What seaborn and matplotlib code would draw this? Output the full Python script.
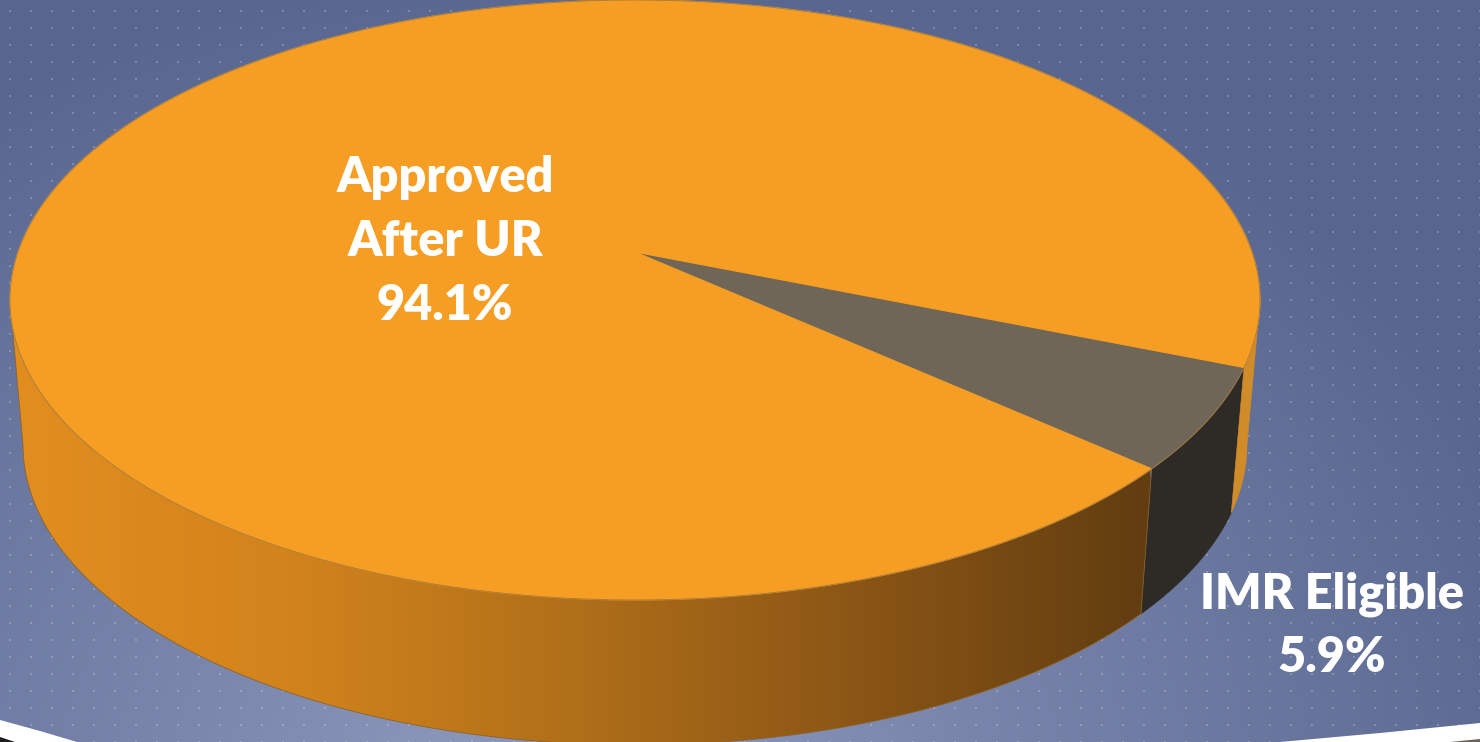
import numpy as np
import matplotlib
matplotlib.use("Agg")
import matplotlib.pyplot as plt
from matplotlib.patches import Polygon
from matplotlib.colors import to_rgb, LinearSegmentedColormap
import seaborn as sns

# ---- data -------------------------------------------------------------
categories = ["Approved\nAfter UR", "IMR Eligible"]
shares = [94.1, 5.9]
top_colors = ["#F69E23", "#6F6658"]
side_colors = ["#E08C1F", "#2E2A25"]

# ---- canvas -----------------------------------------------------------
W, H = 1480, 742
sns.set_theme(style="white")
plt.rcParams["font.family"] = ["Lato", "DejaVu Sans"]

fig = plt.figure(figsize=(W / 100, H / 100), dpi=100)
ax = fig.add_axes([0, 0, 1, 1])
ax.set_xlim(0, W)
ax.set_ylim(H, 0)
ax.axis("off")

# background: soft radial gradient with a faint dot grid
yy, xx = np.mgrid[0:H, 0:W]
d = np.sqrt(((xx - 560) / 1.05) ** 2 + ((yy - 800) / 0.85) ** 2)
t = np.clip((d - 150) / 850, 0, 1) ** 0.9
light = np.array(to_rgb("#8994B9"))
dark = np.array(to_rgb("#58668F"))
bg = light[None, None, :] * (1 - t[..., None]) + dark[None, None, :] * t[..., None]
dots = ((xx - 9) % 21 < 2) & ((yy - 10) % 17 < 2)
bg[dots] = bg[dots] * 0.78 + 0.22
ax.imshow(bg, extent=[0, W, H, 0], zorder=0, interpolation="nearest")

# decorative swoosh along the bottom edge
ax.add_patch(Polygon([(0, 720), (40, 731), (77, 742), (0, 742)],
                     closed=True, color="white", lw=0, zorder=1))
ax.add_patch(Polygon([(0, 737), (15, 742), (0, 742)],
                     closed=True, color="#1E1E1E", lw=0, zorder=2))
ax.add_patch(Polygon([(1280, 742), (1380, 733), (1480, 723), (1480, 742)],
                     closed=True, color="white", lw=0, zorder=1))
ax.add_patch(Polygon([(1450, 742), (1480, 739), (1480, 742)],
                     closed=True, color="#6B6456", lw=0, zorder=2))

# ---- 3D pie geometry ---------------------------------------------------
CX, CY = 635, 300          # top ellipse centre
A_TOP, B_EL = 625, 300     # top ellipse semi axes
A_BOT = 612                # bottom rim slightly narrower (perspective)
DEPTH = 145
APEX = (635, 252)
START = 13.0               # degrees, clockwise on screen


def rim(theta_deg, bottom=False):
    th = np.radians(theta_deg)
    a = A_BOT if bottom else A_TOP
    x = CX + a * np.cos(th)
    y = CY + B_EL * np.sin(th) + (DEPTH if bottom else 0)
    return np.column_stack([x, y])


fracs = np.array(shares) / np.sum(shares)
# IMR slice first (from START), then the remaining share wraps around
order = [1, 0]
bounds = {}
a0 = START
for i in order:
    a1 = a0 + fracs[i] * 360
    bounds[i] = (a0, a1)
    a0 = a1


def visible_parts(t0, t1):
    parts = []
    for off in (0, 360, -360):
        lo, hi = max(t0 - off, 0), min(t1 - off, 180)
        if hi > lo:
            parts.append((lo, hi))
    return parts


side_cmap = LinearSegmentedColormap.from_list(
    "side", ["#E38E1F", "#D2831C", "#B06F19", "#8A5515", "#613D10"])

for i in order:
    t0, t1 = bounds[i]
    for lo, hi in visible_parts(t0, t1):
        th = np.linspace(lo, hi, 200)
        pts = np.vstack([rim(th), rim(th[::-1], bottom=True)])
        if i == 0 and lo < 20:
            poly = Polygon(pts, closed=True, facecolor="#D08C28",
                           edgecolor="#D08C28", lw=0.4, zorder=3)
            ax.add_patch(poly)
        elif i == 0:
            poly = Polygon(pts, closed=True, facecolor="none",
                           edgecolor="#8A6430", lw=0.6, zorder=4)
            ax.add_patch(poly)
            grad = np.linspace(0, 1, 512)[None, :]
            im = ax.imshow(grad, cmap=side_cmap, aspect="auto",
                           extent=[0, 1150, H + 10, 250], zorder=3)
            im.set_clip_path(poly)
        else:
            poly = Polygon(pts, closed=True, facecolor=side_colors[i],
                           edgecolor=side_colors[i], lw=0.6, zorder=3)
            ax.add_patch(poly)

# top faces
for i in order:
    t0, t1 = bounds[i]
    th = np.linspace(t0, t1, 400)
    pts = np.vstack([[APEX], rim(th)])
    ax.add_patch(Polygon(pts, closed=True, facecolor=top_colors[i],
                         edgecolor=top_colors[i], lw=0.8, zorder=5))

# thin outline of the top rim
th = np.linspace(0, 360, 720)
r = rim(th)
ax.plot(r[:, 0], r[:, 1], color="#A27A42", lw=0.6, zorder=6)

# ---- labels -------------------------------------------------------------
label_pos = {0: (445, 177), 1: (1332, 594)}
for i in order:
    lines = categories[i].split("\n") + [f"{shares[i]:.1f}%"]
    x, y = label_pos[i]
    for k, line in enumerate(lines):
        ax.text(x, y + k * 64, line, ha="center", va="center",
                color="white", fontsize=35, fontweight="heavy", zorder=10)

fig.savefig("out.png", dpi=100)
